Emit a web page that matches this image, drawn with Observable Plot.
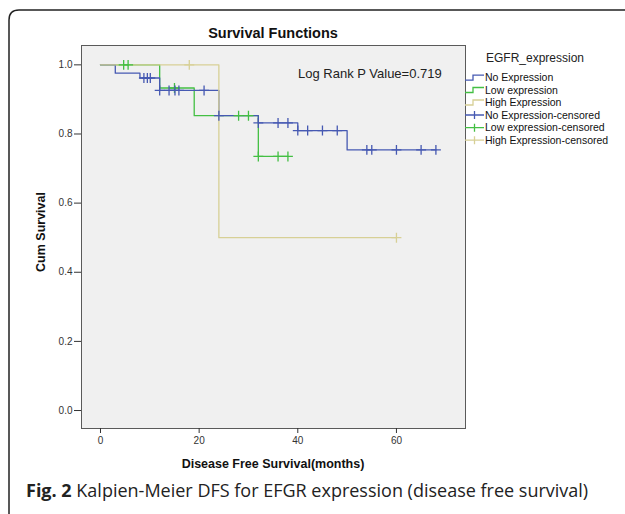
<!DOCTYPE html>
<html><head><meta charset="utf-8">
<script src="https://cdn.jsdelivr.net/npm/d3@7"></script>
<script src="https://cdn.jsdelivr.net/npm/@observablehq/plot@0.6"></script>
<style>
body{margin:0;background:#fff;}
#chart svg{display:block;}
</style></head><body><div id="chart"></div>
<script>
// ---- data ----
const groups = ["No Expression", "Low expression", "High Expression"];
const groupColors = ["#4659b2", "#43bf43", "#d7d096"];
const xTicks = [0, 20, 40, 60];
const yTicks = [0, 0.2, 0.4, 0.6, 0.8, 1.0];

const noTimes = [0, 3, 8, 12, 24, 32, 40, 50, 68];
const noSurv  = [1, 0.976, 0.962, 0.926, 0.853, 0.832, 0.810, 0.754, 0.754];
const noCensor = [8.8, 9.5, 10.1, 12, 13.9, 15.1, 15.9, 21, 24, 32, 36, 38, 40, 42, 45, 48, 54, 55, 60, 65, 68];

const lowTimes = [0, 12, 19, 32, 38];
const lowSurv  = [1, 0.933, 0.853, 0.735, 0.735];
const lowCensor = [4.7, 5.6, 15, 28, 30, 32, 36, 38];

const highTimes = [0, 24, 60];
const highSurv  = [1, 0.5, 0.5];
const highCensor = [18, 60];

const legendLabels = ["No Expression", "Low expression", "High Expression",
  "No Expression-censored", "Low expression-censored", "High Expression-censored"];
const pValueText = "Log Rank P Value=0.719";

// ---- build tables ----
function steps(g, times, surv) { return times.map((t, i) => ({group: g, t, s: surv[i]})); }
function censors(g, times, surv, cs) {
  return cs.map(c => { let s = surv[0]; times.forEach((t, i) => { if (t <= c) s = surv[i]; }); return {group: g, t: c, s}; });
}
const noLine = steps(groups[0], noTimes, noSurv);
const lowLine = steps(groups[1], lowTimes, lowSurv);
const highLine = steps(groups[2], highTimes, highSurv);
const noC = censors(groups[0], noTimes, noSurv, noCensor);
const lowC = censors(groups[1], lowTimes, lowSurv, lowCensor);
const highC = censors(groups[2], highTimes, highSurv, highCensor);

const W = 625, H = 514;
const fam = "'Liberation Sans', Arial, sans-serif";
const lineOpt = {x: "t", y: "s", stroke: "group", curve: "step-after", strokeWidth: 1.3};
const dotOpt = {x: "t", y: "s", stroke: "group", symbol: "plus", r: 3.3, strokeWidth: 1.3};

const chart = Plot.plot({
  width: W, height: H,
  marginLeft: 81, marginRight: 160, marginTop: 45, marginBottom: 86,
  style: {fontFamily: fam, background: "#fff", color: "#333"},
  x: {domain: [-3.85, 74]},
  y: {domain: [-0.052, 1.056]},
  color: {domain: groups, range: groupColors},
  marks: [
    Plot.frame({fill: "#f0f0f0", stroke: "#5a5a5a"}),
    Plot.axisX({ticks: xTicks, tickSize: 5, tickPadding: 3, fontSize: 10, label: null}),
    Plot.axisY({ticks: yTicks, tickSize: 7, tickPadding: 2, fontSize: 10, tickFormat: d3.format(".1f"), label: null}),
    Plot.line(lowLine, lineOpt),
    Plot.line(noLine, lineOpt),
    Plot.line(highLine, lineOpt),
    Plot.dot(lowC, dotOpt),
    Plot.dot(noC, dotOpt),
    Plot.dot(highC, dotOpt)
  ]
});
document.getElementById("chart").append(chart);

const svg = d3.select(chart);
const add = (x, y, txt, size, weight, anchor, fill) => svg.append("text")
  .attr("x", x).attr("y", y).attr("text-anchor", anchor || "start")
  .attr("font-family", fam).attr("font-size", size).attr("font-weight", weight || "normal")
  .attr("fill", fill || "#111").text(txt);
// outer border
svg.append("path").attr("d", `M9,${H} V20 Q9,10 19,10 H${W}`)
  .attr("fill", "none").attr("stroke", "#222").attr("stroke-width", 1.5);
// title
add(273, 38, "Survival Functions", 14.5, "bold", "middle");
// p value
add(298, 77.5, pValueText, 13, "normal", "start", "#222");
// axis titles
add(273, 468, "Disease Free Survival(months)", 12.5, "bold", "middle");
svg.append("text").attr("transform", "translate(45,232) rotate(-90)").attr("text-anchor", "middle")
  .attr("font-family", fam).attr("font-weight", "bold").attr("font-size", 12.5).attr("fill", "#111")
  .text("Cum Survival");
// legend
add(486, 62, "EGFR_expression", 12, "normal", "start", "#222");
const ly = [77.7, 90, 102.5, 115, 127.7, 140.2];
legendLabels.forEach((lab, i) => {
  const c = groupColors[i % 3];
  const y = ly[i];
  if (i < 3) {
    svg.append("path").attr("d", `M465,${y + 2.5} H473 V${y - 2.5} H484`)
      .attr("fill", "none").attr("stroke", c).attr("stroke-width", 1.3);
  } else {
    svg.append("path").attr("d", `M465,${y} H484 M474.5,${y - 4} V${y + 4}`)
      .attr("fill", "none").attr("stroke", c).attr("stroke-width", 1.3);
  }
  add(485, y + 3.6, lab, 10.5, "normal", "start", "#111");
});
// caption
const cap = svg.append("text").attr("x", 26).attr("y", 497).attr("text-anchor", "start")
  .attr("font-family", "'Open Sans', 'Noto Sans', sans-serif").attr("font-size", 18).attr("fill", "#222");
cap.append("tspan").attr("font-weight", "bold").text("Fig. 2");
cap.append("tspan").text(" Kalpien-Meier DFS for EFGR expression (disease free survival)");
</script></body></html>
